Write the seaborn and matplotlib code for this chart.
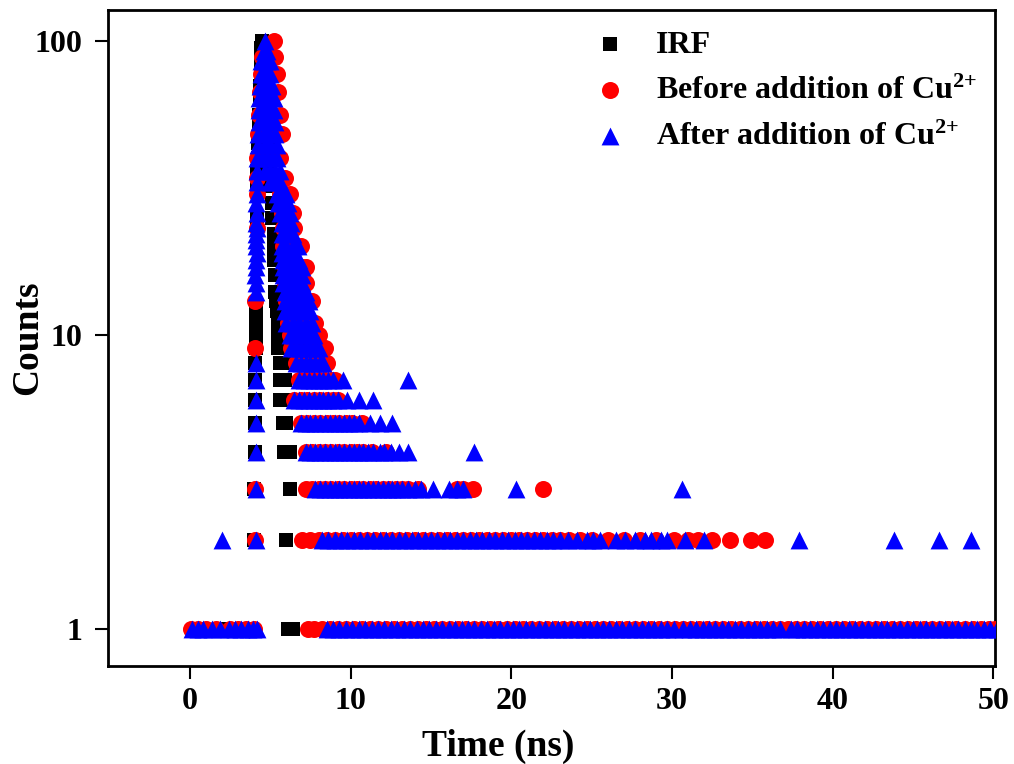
import matplotlib
matplotlib.use("Agg")
import matplotlib.pyplot as plt
from matplotlib.ticker import NullLocator
import pandas as pd
import seaborn as sns

# ---------------- data (count level, times in ns) ----------------
series_names = ["IRF", "Before addition of Cu$^{2{+}}$", "After addition of Cu$^{2{+}}$"]
series_colors = ["#000000", "#ff0000", "#0000ff"]
series_markers = ["s", "o", "^"]

irf_rows = [
    (1, [2.2, 3.3, 6.1, 6.4]),
    (2, [4.0, 6.0]),
    (3, [4.0, 6.2]),
    (4, [4.05, 5.85, 6.2]),
    (5, [4.05, 5.8, 6.0]),
    (6, [4.05, 5.6, 5.9]),
    (7, [4.05, 5.6, 5.9]),
    (8, [4.05, 5.6, 5.9]),
    (9, [4.1, 5.5, 5.8]),
    (10, [4.1, 5.5]),
    (11, [4.1, 5.45]),
    (12, [4.1, 5.4]),
    (13, [5.35]),
    (14, [5.3]),
    (16, [5.3]),
    (18, [5.25]),
    (20, [5.2]),
    (22, [5.2]),
    (25, [4.15, 5.1]),
    (28, [5.1]),
    (32, [4.2, 5.0]),
    (36, [4.2, 5.0]),
    (40, [4.25, 4.9]),
    (45, [4.25, 4.9]),
    (50, [4.3, 4.85]),
    (56, [4.3, 4.8]),
    (63, [4.35, 4.8]),
    (70, [4.35, 4.7]),
    (78, [4.4, 4.7]),
    (86, [4.45, 4.6]),
    (94, [4.45, 4.55]),
    (100, [4.5]),
]

before_rows = [
    (1, [0.05, 0.5, 1.0, 1.6, 2.5, 3.0, 3.5, 4.0, 7.35, 7.75,
         8.2, 8.7, 9.2, 9.7, 10.2, 10.7, 11.2, 11.7, 12.2, 12.7, 13.2, 13.7,
         14.2, 14.7, 15.2, 15.7, 16.2, 16.7, 17.2, 17.7, 18.2, 18.7, 19.2,
         19.7, 20.2, 20.7, 21.2, 21.7, 22.2, 22.7, 23.2, 23.7, 24.2, 24.7,
         25.2, 25.7, 26.2, 26.7, 27.2, 27.7, 28.2, 28.7, 29.2, 29.7, 30.2,
         30.7, 31.2, 31.7, 32.2, 32.7, 33.2, 33.7, 34.2, 34.7, 35.2, 35.7,
         36.2, 36.7, 37.2, 37.7, 38.2, 38.7, 39.2, 39.7, 40.2, 40.7, 41.2,
         41.7, 42.2, 42.7, 43.2, 43.7, 44.2, 44.7, 45.2, 45.7, 46.2, 46.7,
         47.2, 47.7, 48.2, 48.7, 49.2, 49.7, 50.1]),
    (2, [4.05, 7.0, 7.5, 8.0, 8.5, 9.0, 9.5, 10.0, 10.5, 11.0, 11.5, 12.0,
         12.5, 13.0, 13.5, 14.0, 14.5, 15.0, 15.5, 16.0, 16.5, 17.0, 17.5,
         18.0, 18.5, 19.0, 19.5, 20.0, 20.5, 21.0, 21.5, 22.0, 22.5, 23.0,
         23.6, 24.3, 25.0, 26.0, 27.0, 28.0, 29.0, 30.1, 31.0, 31.6, 32.5,
         33.6, 34.9, 35.8]),
    (3, [4.05, 7.2, 7.6, 8.0, 8.4, 8.8, 9.2, 9.6, 10.0, 10.4, 10.8, 11.2,
         11.6, 12.0, 12.4, 12.8, 13.2, 13.6, 14.2, 16.6, 17.0, 17.6, 22.0]),
    (4, [7.2, 7.6, 8.0, 8.4, 8.8, 9.2, 9.6, 10.0, 10.4, 10.8, 11.3, 12.2]),
    (5, [6.9, 7.3, 7.7, 8.1, 8.5, 8.9, 9.3, 9.7, 10.1, 10.7]),
    (6, [6.5, 6.9, 7.3, 7.7, 8.1, 8.5, 8.9, 9.2]),
    (7, [6.8, 7.2, 7.6, 8.0, 8.4, 8.8, 9.0]),
    (8, [6.6, 7.0, 7.4, 7.8, 8.2, 8.5]),
    (9, [4.05, 6.3, 6.7, 7.1, 7.5, 7.9, 8.4]),
    (10, [6.2, 6.6, 7.0, 7.4, 7.8, 8.0]),
    (11, [6.1, 6.5, 6.9, 7.3, 7.8]),
    (13, [4.05, 6.0, 6.4, 6.8, 7.2, 7.6]),
    (15, [5.9, 6.3, 6.7, 7.2]),
    (17, [5.9, 6.3, 6.7, 7.0, 7.2]),
    (20, [5.8, 6.2, 6.6, 6.9]),
    (23, [4.15, 5.8, 6.2, 6.5]),
    (26, [5.7, 6.0, 6.4]),
    (30, [4.15, 5.6, 5.9, 6.2]),
    (34, [4.2, 5.2, 5.5, 5.9]),
    (40, [4.2, 4.8, 5.2, 5.6]),
    (48, [4.25, 4.7, 5.1, 5.7]),
    (56, [4.3, 4.7, 5.1, 5.6]),
    (67, [4.35, 4.7, 5.1, 5.5]),
    (77, [4.4, 4.8, 5.1, 5.4]),
    (88, [4.5, 4.9, 5.3]),
    (100, [5.2]),
]

after_rows = [
    (1, [0.1, 0.5, 0.8, 1.4, 1.9, 2.4, 2.8, 3.2, 3.6, 3.9, 4.2,
         8.5, 8.9, 9.3, 9.7, 10.1, 10.5, 10.9, 11.3, 11.7, 12.1, 12.5, 12.9,
         13.3, 13.7, 14.1, 14.5, 14.9, 15.3, 15.7, 16.1, 16.5, 16.9, 17.3,
         17.7, 18.1, 18.5, 18.9, 19.3, 19.7, 20.1, 20.5, 20.9, 21.3, 21.7,
         22.1, 22.5, 22.9, 23.3, 23.7, 24.1, 24.5, 24.9, 25.3, 25.7, 26.1,
         26.5, 26.9, 27.3, 27.7, 28.1, 28.5, 28.9, 29.3, 29.7, 30.1, 30.7,
         31.1, 31.5, 31.9, 32.3, 32.7, 33.1, 33.5, 33.9, 34.3, 34.7, 35.1,
         35.5, 35.9, 36.3, 36.7, 37.4, 37.8, 38.2, 38.6, 39.0, 39.4, 39.8,
         40.2, 40.6, 41.0, 41.4, 41.8, 42.2, 42.6, 43.0, 43.4, 43.8, 44.2,
         44.6, 45.0, 45.4, 45.8, 46.2, 46.6, 47.0, 47.4, 47.8, 48.2, 48.6,
         49.0, 49.4, 49.8, 50.2]),
    (2, [2.0, 4.1, 8.2, 8.6, 9.0, 9.4, 9.8, 10.2, 10.6, 11.0, 11.4, 11.8,
         12.2, 12.6, 13.0, 13.4, 13.8, 14.2, 14.6, 15.0, 15.4, 15.8, 16.2,
         16.6, 17.0, 17.4, 17.8, 18.2, 18.6, 19.0, 19.4, 19.8, 20.2, 20.6,
         21.0, 21.4, 21.8, 22.2, 22.6, 23.0, 23.5, 24.1, 24.7, 25.1, 25.5,
         26.5, 27.1, 27.7, 28.3, 28.7, 29.3, 29.7, 30.8, 32.0, 37.9, 43.8,
         46.6, 48.6]),
    (3, [4.1, 7.8, 8.1, 8.4, 8.7, 9.0, 9.3, 9.6, 9.9, 10.2, 10.5, 10.8,
         11.1, 11.4, 11.7, 12.0, 12.3, 12.6, 12.9, 13.2, 13.6, 14.0, 14.4,
         15.1, 16.1, 16.6, 17.0, 20.3, 30.6]),
    (4, [4.1, 7.2, 7.5, 7.8, 8.1, 8.4, 8.7, 9.0, 9.3, 9.6, 9.9, 10.2, 10.5,
         10.8, 11.1, 11.4, 11.8, 12.1, 12.5, 13.0, 13.6, 17.7]),
    (5, [4.1, 6.9, 7.2, 7.5, 7.8, 8.1, 8.4, 8.7, 9.0, 9.3, 9.6, 9.9, 10.2,
         10.5, 11.2, 11.8, 12.6]),
    (6, [4.1, 6.5, 6.8, 7.1, 7.4, 7.7, 8.0, 8.3, 8.6, 8.9, 9.2, 9.8, 10.5,
         11.4]),
    (7, [4.1, 6.8, 7.1, 7.4, 7.7, 8.0, 8.3, 8.6, 8.9, 9.5, 13.6]),
    (8, [4.1, 6.6, 6.9, 7.2, 7.5, 7.8, 8.1, 8.3]),
    (9, [6.3, 6.6, 6.9, 7.2, 7.5, 7.8, 8.0]),
    (10, [6.2, 6.5, 6.8, 7.1, 7.4, 7.7]),
    (11, [6.0, 6.4, 6.8, 7.2, 7.6]),
    (12, [5.9, 6.3, 6.7, 7.1, 7.5]),
    (13, [5.9, 6.3, 6.7, 7.1, 7.4]),
    (14, [4.1, 5.9, 6.3, 6.7, 7.2]),
    (15, [4.1, 5.8, 6.2, 6.6, 7.0]),
    (16, [4.05, 5.8, 6.2, 6.6, 7.0]),
    (17, [4.1, 5.8, 6.2, 6.6, 7.0]),
    (18, [4.1, 5.8, 6.1, 6.5, 6.8]),
    (19, [4.15, 5.7, 6.1, 6.5]),
    (20, [4.1, 5.7, 6.0, 6.4, 6.7]),
    (21, [4.1]),
    (22, [4.1, 5.7, 6.0, 6.4]),
    (23, [4.15]),
    (24, [4.1, 5.7, 6.0, 6.3]),
    (26, [4.15, 5.6, 5.9, 6.2]),
    (28, [4.1, 5.5, 5.8, 6.1]),
    (30, [4.15, 5.4, 5.7, 6.0]),
    (33, [4.2, 5.0, 5.3, 5.6]),
    (36, [4.2, 4.7, 5.0, 5.3, 5.6]),
    (40, [4.2, 4.5, 4.8, 5.1, 5.4]),
    (44, [4.25, 4.7, 5.0, 5.4]),
    (48, [4.25, 4.6, 4.9, 5.3]),
    (53, [4.3, 4.6, 4.9, 5.3]),
    (58, [4.3, 4.6, 4.9, 5.2]),
    (64, [4.3, 4.6, 4.9, 5.2]),
    (70, [4.35, 4.6, 4.9, 5.1]),
    (77, [4.4, 4.6, 4.8, 5.0]),
    (85, [4.45, 4.6, 4.8, 5.0]),
    (92, [4.6, 4.8]),
    (100, [4.7]),
]

x_ticks = [0, 10, 20, 30, 40, 50]
y_ticks = [1, 10, 100]
y_tick_labels = ["1", "10", "100"]


def to_frame(rows, name):
    recs = [(t, c, name) for c, times in rows for t in times]
    return pd.DataFrame(recs, columns=["time", "counts", "series"])


frames = [to_frame(irf_rows, series_names[0]),
          to_frame(before_rows, series_names[1]),
          to_frame(after_rows, series_names[2])]
marker_sizes = [105, 150, 165]

# ---------------- style ----------------
sns.set_theme(style="ticks")
plt.rcParams.update({
    "font.family": ["Liberation Serif", "DejaVu Serif"],
    "font.weight": "bold",
    "axes.labelweight": "bold",
    "mathtext.fontset": "custom",
    "mathtext.rm": "Liberation Serif:bold",
    "mathtext.bf": "Liberation Serif:bold",
    "mathtext.it": "Liberation Serif:bold:italic",
    "mathtext.default": "rm",
    "axes.linewidth": 2,
    "text.color": "black",
    "axes.labelcolor": "black",
    "xtick.color": "black",
    "ytick.color": "black",
    "axes.edgecolor": "black",
})

fig, ax = plt.subplots(figsize=(10.14, 7.64), dpi=100)
fig.subplots_adjust(left=0.1065, right=0.9813, top=0.9869, bottom=0.1283)

for df, col, mk, sz, name in zip(frames, series_colors, series_markers,
                                 marker_sizes, series_names):
    sns.scatterplot(data=df, x="time", y="counts", color=col, marker=mk,
                    s=sz, linewidth=0, label=name, ax=ax, zorder=3)

ax.set_yscale("log")
ax.set_xlim(-5.1, 50.1)
ax.set_ylim(0.748, 127)
ax.set_xticks(x_ticks)
ax.set_xticklabels([str(v) for v in x_ticks])
ax.set_yticks(y_ticks)
ax.set_yticklabels(y_tick_labels)
ax.yaxis.set_minor_locator(NullLocator())
ax.xaxis.set_minor_locator(NullLocator())
ax.tick_params(axis="both", direction="out", length=9.4, width=1.5,
               labelsize=23, colors="black")
ax.tick_params(axis="x", pad=5.5)
ax.tick_params(axis="y", pad=9)
for lab in ax.get_xticklabels() + ax.get_yticklabels():
    lab.set_fontweight("bold")
for sp in ax.spines.values():
    sp.set_visible(True)
    sp.set_linewidth(2)
    sp.set_color("black")

ax.set_xlabel("Time (ns)", fontsize=27, fontweight="bold", color="black")
ax.set_ylabel("Counts", fontsize=27, fontweight="bold", color="black")
ax.xaxis.set_label_coords(0.44, -0.096)
ax.yaxis.set_label_coords(-0.071, 0.5)

leg = ax.legend(loc="upper left", bbox_to_anchor=(0.549, 0.969),
                frameon=False, fontsize=23, handlelength=0.96,
                handletextpad=0.96, labelspacing=0.52, borderpad=0,
                borderaxespad=0)
for t in leg.get_texts():
    t.set_fontweight("bold")
    t.set_color("black")

fig.savefig("out.png", dpi=100, facecolor="white")
